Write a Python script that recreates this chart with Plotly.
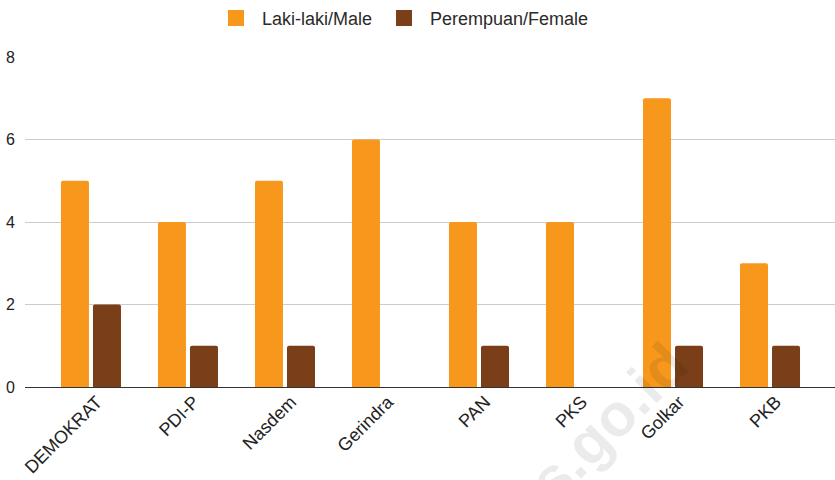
import plotly.graph_objects as go

categories = ["DEMOKRAT", "PDI-P", "Nasdem", "Gerindra", "PAN", "PKS", "Golkar", "PKB"]
male = [5, 4, 5, 6, 4, 4, 7, 3]
female = [2, 1, 1, 0, 1, 0, 1, 1]
y_ticks = [0, 2, 4, 6, 8]
series_names = ["Laki-laki/Male", "Perempuan/Female"]
series_colors = ["#F7981D", "#7A3F18"]

W, H = 835, 480
ML, MR, MT, MB = 25, 0, 57, 93
pw, ph = W - ML - MR, H - MT - MB

fig = go.Figure()
for name, vals, col in zip(series_names, [male, female], series_colors):
    fig.add_trace(go.Bar(name=name, x=categories, y=vals, showlegend=False,
                         marker=dict(color=col, cornerradius=2, line=dict(width=0))))

def px_to_paper(px, py):
    return (px - ML) / pw, (H - MB - py) / ph

# custom legend (symbol squares + labels)
legend_sym_x = [228, 396]
for name, col, sx in zip(series_names, series_colors, legend_sym_x):
    x0, y0 = px_to_paper(sx, 26)
    x1, y1 = px_to_paper(sx + 16, 10)
    fig.add_shape(type="rect", xref="paper", yref="paper", x0=x0, y0=y0, x1=x1, y1=y1,
                  fillcolor=col, line=dict(width=0), layer="above")
    tx, ty = px_to_paper(sx + 32, 19)
    fig.add_annotation(text=name, x=tx, y=ty, xref="paper", yref="paper",
                       xanchor="left", yanchor="middle", showarrow=False,
                       font=dict(family="Liberation Sans, Arial", size=18, color="#2a2a2a"))

wx, wy = px_to_paper(582, 448)
fig.add_annotation(text="<b>bps.go.id</b>", x=wx, y=wy, xref="paper", yref="paper",
                   xanchor="center", yanchor="middle",
                   showarrow=False, textangle=-45,
                   font=dict(family="Liberation Sans, Arial", size=60, color="rgba(0,0,0,0.08)"))

fig.update_layout(
    width=W, height=H,
    margin=dict(l=ML, r=MR, t=MT, b=MB, autoexpand=False),
    paper_bgcolor="white", plot_bgcolor="white",
    barmode="group", bargap=0.34, bargroupgap=0.125,
    font=dict(family="Liberation Sans, Arial", size=17, color="#222222"),
    showlegend=False,
    xaxis=dict(range=[-0.68, 7.67], tickangle=-45, showgrid=False, ticks="",
               tickfont=dict(size=18, color="#222222"), showline=False, zeroline=False,
               automargin=False, ticklabelshift=6),
    yaxis=dict(range=[0, 8], tickvals=y_ticks, ticktext=[str(v) for v in y_ticks],
               showgrid=True, gridcolor="#CCCCCC", gridwidth=1,
               zeroline=True, zerolinecolor="#333333", zerolinewidth=1,
               tickfont=dict(size=16, color="#222222"), ticks="", ticklabelstandoff=9,
               automargin=False),
)

fig.write_html("out.html", config={"displayModeBar": False},
               post_script="document.body.style.margin='0';")
